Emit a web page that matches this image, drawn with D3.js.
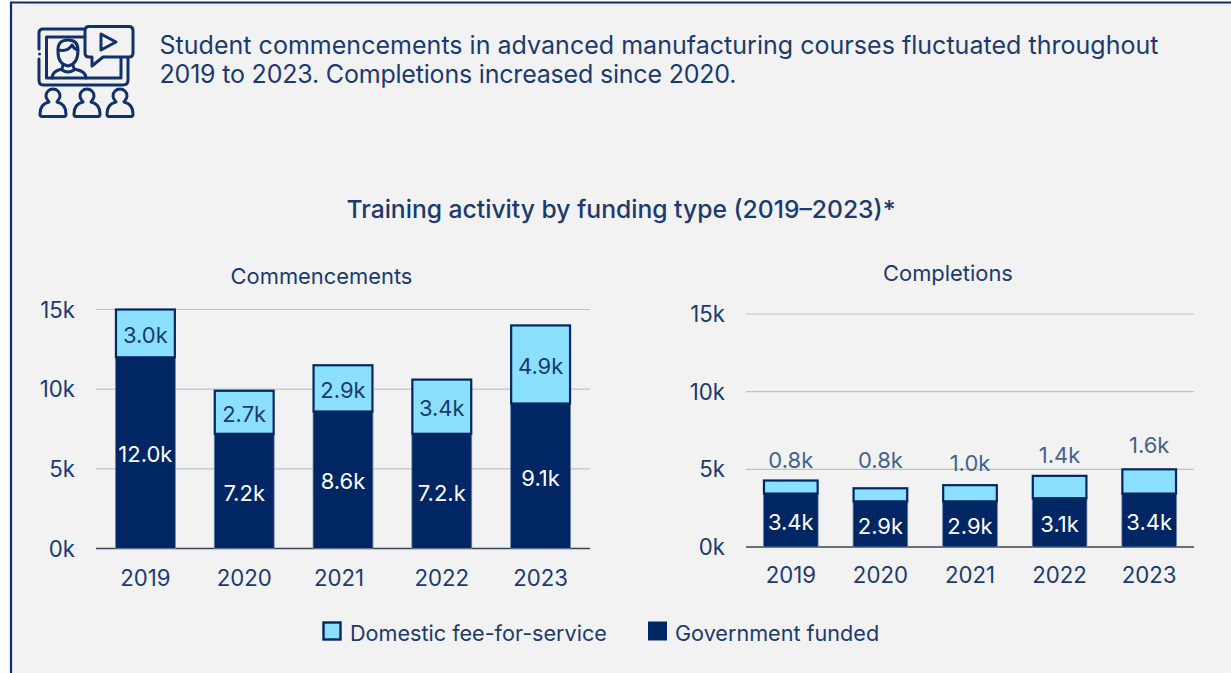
<!DOCTYPE html>
<html><head><meta charset="utf-8">
<script src="https://cdnjs.cloudflare.com/ajax/libs/d3/7.8.5/d3.min.js"></script>
<style>html,body{margin:0;padding:0;background:#fff;overflow:hidden}svg{display:block}text{font-family:Inter,"Noto Sans",sans-serif}</style>
</head><body><svg id="c" width="1231" height="673"></svg>
<script>
const years = ["2019","2020","2021","2022","2023"];
const commGov = [12.0,7.2,8.6,7.2,9.1];
const commFee = [3.0,2.7,2.9,3.4,4.9];
const compGov = [3.44,2.94,2.94,3.14,3.44];
const compFee = [0.84,0.84,1.04,1.44,1.56];
const commGovLabels = ["12.0k","7.2k","8.6k","7.2.k","9.1k"];
const commFeeLabels = ["3.0k","2.7k","2.9k","3.4k","4.9k"];
const compGovLabels = ["3.4k","2.9k","2.9k","3.1k","3.4k"];
const compFeeLabels = ["0.8k","0.8k","1.0k","1.4k","1.6k"];
const yTicks = [0,5,10,15];
const headline = ["Student commencements in advanced manufacturing courses fluctuated throughout","2019 to 2023. Completions increased since 2020."];
const mainTitle = "Training activity by funding type (2019–2023)*";
const legendItems = ["Domestic fee-for-service","Government funded"];
const NAVY="#002664", LIGHT="#8ce0ff", TEXT="#1a3a70", BG="#f2f2f2", GRID="#bcc2cb";
const aboveLift=[13,20,14,13,16];
const svg=d3.select("#c");
svg.append("rect").attr("x",11).attr("y",2).attr("width",1220).attr("height",671).attr("fill",BG);
svg.append("path").attr("d","M11,673V2.5H1231").attr("fill","none").attr("stroke","#0b2f6b").attr("stroke-width",2.2);

const headWidths=[999,577];
headline.forEach((t,i)=>svg.append("text").attr("x",159.5).attr("y",54+i*28.5).attr("font-size",25).attr("fill",TEXT).attr("textLength",headWidths[i]).attr("lengthAdjust","spacing").text(t));
svg.append("text").attr("x",621).attr("y",218).attr("text-anchor","middle").attr("font-size",24.66).attr("font-weight",500).attr("fill",TEXT).text(mainTitle);

// icon
const ic=svg.append("g").attr("fill","none").attr("stroke","#12306a").attr("stroke-width",3).attr("stroke-linejoin","round").attr("stroke-linecap","round");
ic.append("path").attr("d","M84,29H43Q39,29 39,33V49M39.500,54V54.100M39,59V80Q39,85 43,85H123Q128,85 128,80V58");
ic.append("path").attr("d","M84,37H46.500V78H121V58");
ic.append("path").attr("d","M89,26.500H129Q133,26.500 133,30.500V53Q133,57 129,57H103L92,66V57H89Q85,57 85,53V30.500Q85,26.500 89,26.500Z");
ic.append("path").attr("d","M101,34L116,42L101,50Z");
ic.append("path").attr("d","M58,52Q57,40 68,40Q78,40 78,50Q78,64 68,66Q58,64 58,52Z M58,50Q68,52 72,45Q74,49 78,50");
ic.append("path").attr("d","M52,78Q52,71 62,69L63,65M86,78Q86,71 74,69L73,65M62,70Q68,74 74,70");
[53,87,120].forEach(c=>{
 ic.append("path").attr("d",`M${c-4},102Q${c-7},98 ${c-7},96A7,7 0 1,1 ${c+7},96Q${c+7},98 ${c+4},102Q${c+13},104 ${c+13},114Q${c+13},116.500 ${c+11},116.500H${c-11}Q${c-13},116.500 ${c-13},114Q${c-13},104 ${c-4},102Z`);
});

function panel(o){
 const x=d3.scaleBand().domain(years).range([o.x0,o.x1]).paddingInner(o.pad).paddingOuter(o.pad/2);
 const y=d3.scaleLinear().domain([0,15]).range([o.yb,o.yt]);
 const g=svg.append("g");
 g.append("text").attr("x",o.tx).attr("y",o.ty).attr("text-anchor","middle").attr("font-size",21.9).attr("fill",TEXT).text(o.title);
 yTicks.forEach(t=>{
  g.append("line").attr("x1",o.gx0).attr("x2",o.gx1).attr("y1",y(t)).attr("y2",y(t))
   .attr("stroke",t===0?"#3b4452":GRID).attr("stroke-width",t===0?1.6:1.2);
  g.append("text").attr("x",o.lx).attr("y",y(t)+o.tickDy).attr("text-anchor","end").attr("font-size",22.2).attr("fill",TEXT).text(t+"k");
 });
 years.forEach((yr,i)=>{
  const bx=x(yr), w=x.bandwidth(), gv=o.gov[i], fv=o.fee[i];
  g.append("rect").attr("x",bx).attr("width",w).attr("y",y(gv)).attr("height",y(0)-y(gv)).attr("fill",NAVY).attr("stroke","#6f83a6").attr("stroke-width",0.8);
  g.append("rect").attr("x",bx+.5).attr("width",w-1).attr("y",y(gv+fv)).attr("height",y(gv)-y(gv+fv)).attr("fill",LIGHT).attr("stroke",NAVY).attr("stroke-width",2.2);
  g.append("text").attr("x",bx+w/2).attr("y",(y(gv)+y(0))/2+9.5).attr("text-anchor","middle").attr("font-size",22).attr("fill","#fff").text(o.govLabels[i]);
  if(o.above){
   const t=g.append("text").attr("x",bx+w/2).attr("y",y(gv+fv)-aboveLift[i]).attr("text-anchor","middle").attr("font-size",22).attr("fill","#46628a").text(o.feeLabels[i]);
   const b=t.node().getBBox();
   g.insert("rect","text").attr("x",b.x-10).attr("y",b.y).attr("width",b.width+20).attr("height",b.height).attr("fill",BG);
  } else {
   g.append("text").attr("x",bx+w/2).attr("y",(y(gv)+y(gv+fv))/2+9.5).attr("text-anchor","middle").attr("font-size",22).attr("fill",TEXT).text(o.feeLabels[i]);
  }
  g.append("text").attr("x",bx+w/2+(o.shift&&yr===o.shift[0]?o.shift[1]:0)).attr("y",o.yb+o.xDy).attr("text-anchor","middle").attr("font-size",22.2).attr("fill",TEXT).text(yr);
 });
}
panel({title:"Commencements",tx:321.5,ty:283.5,x0:96,x1:590,pad:0.394,yb:548.5,yt:309.5,gx0:96,gx1:590,lx:75,tickDy:8,xDy:37,gov:commGov,fee:commFee,govLabels:commGovLabels,feeLabels:commFeeLabels,above:false,shift:["2021",-4]});
panel({title:"Completions",tx:948,ty:281,x0:746,x1:1194,pad:0.39,yb:547,yt:314,gx0:746,gx1:1194,lx:725,tickDy:8,xDy:36,gov:compGov,fee:compFee,govLabels:compGovLabels,feeLabels:compFeeLabels,above:true});

// legend
const lg=svg.append("g");
lg.append("rect").attr("x",323.5).attr("y",622.5).attr("width",17).attr("height",17).attr("fill",LIGHT).attr("stroke",NAVY).attr("stroke-width",2.4);
lg.append("text").attr("x",350).attr("y",641).attr("font-size",21.6).attr("fill",TEXT).text(legendItems[0]);
lg.append("rect").attr("x",648).attr("y",621.5).attr("width",19).attr("height",19).attr("fill",NAVY);
lg.append("text").attr("x",675).attr("y",641).attr("font-size",21.6).attr("fill",TEXT).text(legendItems[1]);
</script></body></html>
